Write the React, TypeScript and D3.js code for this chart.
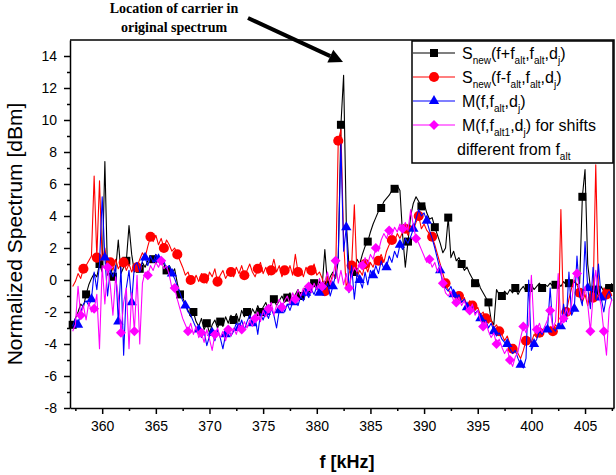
import React, { useEffect, useRef } from 'react';
import * as d3 from 'd3';

// sampling grid of the spectra (kHz)
const FREQ_START = 357.25;
const FREQ_STEP = 0.25;

// S_new(f+f_alt, f_alt, d_j)  -- one row per 5 kHz
const sNewPlus = [
  -2.8, -2.4, -2.0, -1.5, -1.7, -0.9, -0.3, 0.1, 0.4, 0.2, 1.0, 0.5, 7.4, 0.3, 0.9, 0.2, 0.6, 2.5, 0.4, 0.8,
  1.2, 3.4, 1.6, 0.5, 0.9, 0.7, 1.1, 0.8, 1.2, 1.5, 1.3, 1.6, 1.2, 1.4, 1.0, 0.6, 0.9, 0.4, 0.7, -0.2,
  -0.9, -1.1, -1.5, -1.9, -2.3, -2.0, -2.6, -2.9, -2.4, -3.1, -2.7, -3.3, -2.8, -2.5, -3.0, -2.6, -2.9, -2.3, -2.7, -2.2,
  -2.5, -2.1, -2.6, -1.9, -2.3, -2.0, -2.4, -1.8, -2.1, -1.6, -2.0, -1.7, -1.4, -1.9, -1.5, -1.2, -1.6, -1.3, -1.0, -1.4,
  -1.1, -0.8, -1.3, -0.9, -0.6, -1.0, -0.7, -0.4, -0.8, -0.5, -0.2, -0.6, -0.1, -0.4, 1.9, -0.3, 0.2, 0.5, 0.1, 1.2,
  9.7, 12.8, 3.6, 0.9, 0.2, 0.5, 1.3, 1.0, 1.6, 2.1, 2.4, 3.0, 3.5, 3.9, 4.3, 4.5, 4.9, 5.1, 5.3, 5.6,
  5.7, 5.9, 5.6, 2.8, 0.8, 2.4, 4.0, 4.8, 5.2, 4.9, 4.6, 4.8, 4.2, 3.8, 3.9, 3.3, 2.8, 2.3, 1.7, 2.0,
  3.9, 1.4, 1.8, 1.2, 1.4, 1.0, 0.6, 0.8, 0.4, 0.1, -0.2, 0.0, -0.5, -0.8, -1.1, -1.4, -2.5, -2.8, -0.6, -0.9,
  -1.0, -0.7, -0.9, -0.6, -0.8, -0.5, -0.9, -0.6, -0.4, -0.7, -0.5, -0.3, -0.6, -0.4, -0.2, -0.5, -0.3, -0.4, -0.2, -0.4,
  -0.3, -0.2, -0.4, -0.1, -0.3, -0.2, -0.4, -0.1, -0.3, -0.2, 5.2, 6.9, 1.0, -0.5, -1.2, -0.6, -1.0, -0.4, -0.7, -0.3,
  -0.5, -0.2,
];

// S_new(f-f_alt, f_alt, d_j)
const sNewMinus = [
  -0.4, -0.1, 0.4, 0.1, 0.7, 0.9, 1.2, 1.5, 6.5, 1.4, 6.2, 1.2, 2.0, 0.8, 1.1, 0.6, 1.3, 0.7, 1.0, 1.1,
  0.6, 1.0, 0.5, 0.9, 0.8, 1.3, 1.7, 1.4, 2.1, 2.7, 2.4, 2.8, 2.2, 2.6, 2.0, 2.5, 2.2, 1.8, 2.0, 1.6,
  1.2, 0.8, 0.3, 0.5, 0.0, -0.2, 0.3, -0.1, 0.4, 0.1, -0.2, 0.5, 0.2, 0.7, -0.1, 0.3, 0.6, 0.1, 0.4, 0.5,
  0.2, 0.8, 0.4, 0.9, 0.3, 0.6, 1.0, 0.5, 0.2, 0.7, 1.1, 0.4, 0.8, 0.3, 0.6, 1.3, 0.5, 0.9, 0.2, 0.6,
  0.4, 0.9, 0.3, 1.6, 0.5, 0.7, 0.2, 0.8, 0.4, 0.6, 1.0, 0.3, 0.5, 0.1, -0.7, 0.2, -0.2, 0.4, 0.1, 8.7,
  9.4, 2.5, -0.6, 0.4, 0.9, 4.7, 0.2, 0.6, 0.3, 1.0, 0.5, 1.1, 0.8, 1.3, 1.2, 1.6, 1.1, 1.8, 2.2, 2.5,
  2.4, 2.9, 2.6, 3.0, 3.2, 2.8, 3.4, 3.1, 3.6, 4.0, 3.2, 3.5, 3.1, 2.9, 2.7, 2.2, 1.6, 1.0, 0.4, -0.2,
  -0.6, -0.9, -0.7, -1.2, -1.0, -1.4, -1.1, -1.6, -1.3, -1.6, -1.9, -1.7, -2.2, -2.0, -2.4, -2.7, -2.5, -3.0, -2.8, -3.2,
  -3.4, -3.8, -3.5, -4.0, -4.3, -4.1, -4.6, -4.9, -4.4, -3.8, -3.6, -3.9, -3.4, -3.6, -3.3, -3.5, -3.0, -3.2, -2.9, -3.2,
  -2.8, -3.0, 4.4, -2.4, -2.0, -1.2, -0.5, 0.0, -0.3, -0.8, -1.4, -0.9, -1.6, -0.7, -1.1, 7.2, -0.6, -1.3, -0.5, -0.9,
  -0.6, -1.0,
];

// M(f, f_alt, d_j)
const mAlt = [
  -2.9, -2.4, -2.8, -2.0, -1.5, -1.3, -1.6, -1.2, 0.5, -0.6, 1.0, 5.2, 1.4, -1.0, 0.6, 0.2, 0.9, -2.6, 0.8, -4.7,
  -0.5, 0.6, -1.4, 0.9, 1.1, 0.5, 1.2, 1.4, 0.9, 1.5, 1.1, 1.6, 1.3, 1.0, 1.2, 0.7, 0.9, 0.4, 0.1, -0.4,
  -0.8, -1.3, -1.6, -2.0, -2.2, -2.6, -3.0, -3.1, -3.6, -3.2, -4.1, -3.5, -3.3, -3.8, -3.1, -3.6, -4.3, -3.4, -3.0, -3.5,
  -3.2, -2.7, -3.0, -2.5, -3.1, -2.6, -2.2, -2.7, -2.3, -3.4, -2.1, -2.5, -2.0, -2.4, -1.8, -2.2, -3.0, -1.9, -1.6, -2.0,
  -1.5, -1.9, -1.4, -1.1, -1.6, -1.0, -1.3, -0.8, -1.1, -0.6, -0.9, -0.4, -0.8, -0.3, -0.6, -0.2, -1.0, -0.4, 0.3, 1.5,
  8.5, 1.8, 3.3, -0.8, 0.9, -1.2, 0.4, 0.0, -0.5, 0.5, -0.3, 0.6, 0.3, 0.9, 0.4, 1.2, 0.7, 0.8, 1.5, 1.1,
  1.8, 1.4, 2.2, 1.9, 2.6, 2.3, 2.7, 3.2, 3.8, 4.4, 4.0, 4.2, 3.7, 3.1, 2.6, 2.0, 1.3, 0.6, -0.2, -0.5,
  -0.7, -0.4, -0.9, -1.2, -0.9, -1.4, -1.2, -1.7, -1.9, -1.6, -2.1, -1.9, -2.4, -2.7, -2.5, -3.0, -2.7, -3.2, -3.5, -3.3,
  -3.7, -3.9, -4.0, -4.3, -4.6, -4.4, -4.9, -5.3, -5.5, -4.9, 0.0, -4.4, -4.0, -3.7, -3.2, -3.4, -2.9, -3.1, -0.5, -3.0,
  -3.2, -2.7, -2.9, -1.5, -2.6, 0.5, -2.2, -1.8, 1.5, -1.0, -1.6, 2.4, -0.5, -1.8, 0.8, -1.2, 1.0, -1.1, -2.0, -1.0,
  -0.7, -1.3,
];

// M(f, f_alt1, d_j), shifts different from f_alt
const mAlt1 = [
  -3.2, -2.8, -0.4, -2.2, -1.6, -2.5, -1.4, -2.0, -1.8, -0.9, -4.3, 0.9, -1.5, 0.8, -0.3, -2.2, 0.2, -1.0, -3.3, -1.4,
  -0.5, -4.3, -0.8, -3.2, 0.3, -4.0, -0.2, 0.5, 0.3, 0.9, 0.6, 1.1, 0.8, 1.2, 0.7, 0.9, 0.3, -0.5, -0.5, -1.2,
  -1.8, -2.4, -2.8, -3.2, -2.7, -3.4, -2.9, -3.6, -3.3, -3.9, -3.1, -3.7, -4.4, -3.4, -3.0, -3.6, -3.2, -3.8, -3.1, -3.5,
  -3.0, -3.4, -2.8, -3.1, -2.6, -3.0, -2.5, -2.9, -2.4, -2.0, -2.6, -1.9, -2.3, -1.8, -1.4, -2.2, -1.6, -1.2, -1.7, -1.3,
  -1.0, -1.5, -0.8, -1.2, -0.6, -1.0, -0.5, -0.9, -0.4, -0.8, -0.2, -0.6, 0.1, -0.4, -0.1, 0.5, -0.3, 0.2, 1.2, -0.2,
  0.6, -0.3, 0.4, -0.5, 0.3, 0.8, 0.5, 1.1, 0.9, 1.4, 1.0, 1.6, 1.3, 2.0, 1.8, 2.5, 2.9, 2.6, 3.1, 2.8,
  3.3, 3.0, 3.5, 3.2, 3.6, 3.1, 4.4, 3.4, 2.6, 2.3, 1.9, 1.5, 1.1, 1.3, 0.8, 1.1, 0.5, 0.9, -0.2, -0.8,
  -1.0, -0.7, -1.3, -1.4, -1.1, -1.6, -1.3, -1.8, -1.9, -1.5, -2.2, -1.9, -2.5, -2.9, -2.6, -3.2, -3.6, -3.3, -4.0, -3.7,
  -4.2, -4.6, -4.3, -5.0, -5.4, -4.8, -4.5, -3.6, -2.9, -3.3, -2.8, 0.3, -3.0, -3.1, -2.7, -3.3, -2.9, -2.5, -1.9, -3.0,
  -2.6, 0.4, -2.8, -2.4, -1.8, -2.2, -1.5, 0.2, 0.4, -0.6, -1.2, -0.4, -1.5, -3.2, -1.0, 0.6, -0.8, -1.6, -3.2, -4.7,
  -1.8, -1.2,
];

const xTicks = [360, 365, 370, 375, 380, 385, 390, 395, 400, 405];
const xMinorTicks = [357.5, 362.5, 367.5, 372.5, 377.5, 382.5, 387.5, 392.5, 397.5, 402.5, 407.5];
const yTicks = [-8, -6, -4, -2, 0, 2, 4, 6, 8, 10, 12, 14];
const yMinorTicks = [-7, -5, -3, -1, 1, 3, 5, 7, 9, 11, 13];

// legend text pieces: [text, isSubscript]
const legendLabels: [string, boolean][][] = [
  [['S', false], ['new', true], ['(f+f', false], ['alt', true], [',f', false], ['alt', true], [',d', false], ['j', true], [')', false]],
  [['S', false], ['new', true], ['(f-f', false], ['alt', true], [',f', false], ['alt', true], [',d', false], ['j', true], [')', false]],
  [['M(f,f', false], ['alt', true], [',d', false], ['j', true], [')', false]],
  [['M(f,f', false], ['alt1', true], [',d', false], ['j', true], [') for shifts', false]],
];
const legendExtra: [string, boolean][] = [['different from f', false], ['alt', true]];

function App() {
  const ref = useRef<SVGSVGElement>(null);

  useEffect(() => {
    const width = 616;
    const height = 475;
    const font = 'Arial, "Liberation Sans", sans-serif';

    const svg = d3.select(ref.current);
    svg.selectAll('*').remove();

    const x = d3.scaleLinear().domain([357, 407.7]).range([70, 614]);
    const y = d3.scaleLinear().domain([-8, 15]).range([408, 40]);
    const freq = d3.range(sNewPlus.length).map(i => FREQ_START + i * FREQ_STEP);

    svg.append('rect').attr('width', width).attr('height', height).attr('fill', '#fff');

    // series
    const series = [
      { values: sNewPlus, color: '#000000', symbol: d3.symbolSquare, size: 64, rotate: 0, offset: 0 },
      { values: sNewMinus, color: '#ff0000', symbol: d3.symbolCircle, size: 80, rotate: 0, offset: 4 },
      { values: mAlt, color: '#0000ff', symbol: d3.symbolTriangle, size: 46, rotate: 0, offset: 2 },
      { values: mAlt1, color: '#ff00ff', symbol: d3.symbolSquare, size: 50, rotate: 45, offset: 3 },
    ];

    const line = d3.line<number>()
      .x((d, i) => x(freq[i]))
      .y(d => y(d));

    series.forEach(s => {
      svg.append('path')
        .attr('d', line(s.values))
        .attr('fill', 'none')
        .attr('stroke', s.color)
        .attr('stroke-width', 1.1)
        .attr('stroke-linejoin', 'round');

      const sym = d3.symbol().type(s.symbol).size(s.size)();
      svg.append('g')
        .selectAll('path')
        .data(s.values.map((v, i) => [freq[i], v]).filter((d, i) => i % 5 === s.offset))
        .join('path')
          .attr('d', sym)
          .attr('transform', d => `translate(${x(d[0])},${y(d[1])}) rotate(${s.rotate})`)
          .attr('fill', s.color);
    });

    // frame (top and right)
    svg.append('path')
      .attr('d', `M70,${y(15)}H614V${y(-8)}`)
      .attr('fill', 'none')
      .attr('stroke', '#000')
      .attr('stroke-width', 1.5);

    // x axis
    const gx = svg.append('g').attr('transform', `translate(0,${y(-8)})`);
    gx.call(d3.axisBottom(x).tickValues(xTicks).tickSize(6).tickSizeOuter(0).tickPadding(7).tickFormat(d => String(d)));
    gx.append('g').call(d3.axisBottom(x).tickValues(xMinorTicks).tickSize(3).tickFormat(() => ''))
      .call(g => g.select('.domain').remove());
    gx.selectAll('.domain').attr('stroke-width', 1.5);
    gx.selectAll('line').attr('stroke-width', 1.5);
    gx.selectAll('text').attr('font-family', font).attr('font-size', 14).attr('fill', '#000');

    // y axis
    const gy = svg.append('g').attr('transform', 'translate(70,0)');
    gy.call(d3.axisLeft(y).tickValues(yTicks).tickSize(6).tickSizeOuter(0).tickPadding(7).tickFormat(d => String(d)));
    gy.append('g').call(d3.axisLeft(y).tickValues(yMinorTicks).tickSize(3).tickFormat(() => ''))
      .call(g => g.select('.domain').remove());
    gy.selectAll('.domain').attr('stroke-width', 1.5);
    gy.selectAll('line').attr('stroke-width', 1.5);
    gy.selectAll('text').attr('font-family', font).attr('font-size', 14).attr('fill', '#000');

    // axis titles
    svg.append('text')
      .attr('transform', 'translate(22,234) rotate(-90)')
      .attr('text-anchor', 'middle')
      .attr('font-family', font)
      .attr('font-size', 21)
      .text('Normalized Spectrum [dBm]');

    svg.append('text')
      .attr('x', 347)
      .attr('y', 468)
      .attr('text-anchor', 'middle')
      .attr('font-family', font)
      .attr('font-size', 18)
      .attr('font-weight', 'bold')
      .text('f [kHz]');

    // annotation
    const note = svg.append('text')
      .attr('text-anchor', 'middle')
      .attr('font-family', '"Liberation Serif", "Times New Roman", serif')
      .attr('font-weight', 'bold')
      .attr('font-size', 14);
    note.append('tspan').attr('x', 174).attr('y', 13).text('Location of carrier in');
    note.append('tspan').attr('x', 174).attr('y', 32).text('original spectrum');

    const a0 = [248, 18];
    const tip = [343, 62];
    const ang = Math.atan2(tip[1] - a0[1], tip[0] - a0[0]);
    const headLen = 14;
    const headW = 7;
    const bx = tip[0] - headLen * Math.cos(ang);
    const by = tip[1] - headLen * Math.sin(ang);
    svg.append('line')
      .attr('x1', a0[0]).attr('y1', a0[1]).attr('x2', bx).attr('y2', by)
      .attr('stroke', '#000').attr('stroke-width', 4);
    svg.append('path')
      .attr('d', `M${tip[0]},${tip[1]}L${bx + headW * Math.sin(ang)},${by - headW * Math.cos(ang)}L${bx - headW * Math.sin(ang)},${by + headW * Math.cos(ang)}Z`)
      .attr('fill', '#000');

    // legend
    const lg = svg.append('g');
    lg.append('rect')
      .attr('x', 412).attr('y', 41).attr('width', 201).attr('height', 122)
      .attr('fill', '#fff').attr('stroke', '#000').attr('stroke-width', 1.5);

    const writeLabel = (parts: [string, boolean][], tx: number, base: number) => {
      const t = lg.append('text').attr('x', tx).attr('y', base).attr('font-family', font).attr('font-size', 16);
      let inSub = false;
      parts.forEach(([s, sub]) => {
        const dy = sub && !inSub ? 5 : (!sub && inSub ? -5 : 0);
        t.append('tspan').attr('dy', dy).attr('font-size', sub ? 10 : 16).text(s);
        inSub = sub;
      });
    };

    series.forEach((s, k) => {
      const base = 59 + k * 24;
      const cy = base - 6;
      lg.append('line')
        .attr('x1', 413).attr('x2', 455).attr('y1', cy).attr('y2', cy)
        .attr('stroke', s.color).attr('stroke-width', 1.1);
      lg.append('path')
        .attr('d', d3.symbol().type(s.symbol).size(s.size)())
        .attr('transform', `translate(434,${cy}) rotate(${s.rotate})`)
        .attr('fill', s.color);
      writeLabel(legendLabels[k], 462, base);
    });
    writeLabel(legendExtra, 457, 59 + 4 * 24);
  }, []);

  return (
    <svg ref={ref} width={616} height={475} style={{ position: 'absolute', left: 0, top: 0 }}></svg>
  );
}

export default App;
